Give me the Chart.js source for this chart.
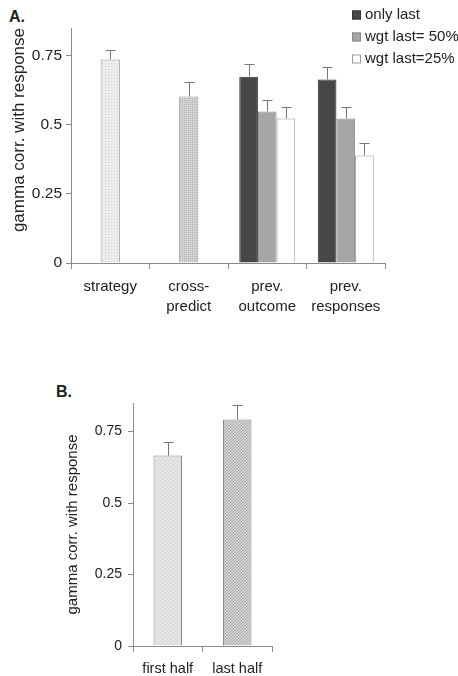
<!DOCTYPE html>
<html>
<head>
<meta charset="utf-8">
<script src="https://cdn.jsdelivr.net/npm/chart.js@4.4.1/dist/chart.umd.min.js"></script>
<style>
  body { margin: 0; background: #fff; width: 458px; height: 676px; position: relative; overflow: hidden; }
  .panel { position: absolute; left: 0; }
  .tag { position: absolute; font: bold 16px "Liberation Sans", Arial, sans-serif; color: #222; }
</style>
</head>
<body>
<div class="tag" style="left:9px; top:8px;">A.</div>
<div class="tag" style="left:56px; top:383px;">B.</div>
<div class="panel" style="top:0;"><canvas id="chartA" width="458" height="320"></canvas></div>
<div class="panel" style="top:370px;"><canvas id="chartB" width="458" height="306"></canvas></div>
<script>
// panel A
const categoriesA = ['strategy', ['cross-', 'predict'], ['prev.', 'outcome'], ['prev.', 'responses']];
const singleA = [0.736, 0.602, null, null];
const singleErrA = [0.036, 0.051, null, null];
const onlyLast = [null, null, 0.674, 0.664];
const onlyLastErr = [null, null, 0.047, 0.046];
const wgt50 = [null, null, 0.548, 0.523];
const wgt50Err = [null, null, 0.043, 0.040];
const wgt25 = [null, null, 0.523, 0.389];
const wgt25Err = [null, null, 0.040, 0.044];
const legendA = ['only last', 'wgt last= 50%', 'wgt last=25%'];

// panel B
const categoriesB = ['first half', 'last half'];
const halves = [0.666, 0.792];
const halvesErr = [0.049, 0.052];

const yTicks = [0, 0.25, 0.5, 0.75];
const yTitle = 'gamma corr. with response';

const FONT = '"Liberation Sans", Arial, sans-serif';
const AXIS = '#8a8a8a';

function dotPattern(base, dot, size) {
  const c = document.createElement('canvas');
  c.width = c.height = size;
  const g = c.getContext('2d');
  g.fillStyle = base;
  g.fillRect(0, 0, size, size);
  g.fillStyle = dot;
  g.fillRect(0, 0, 1, 1);
  return g.createPattern(c, 'repeat');
}

function hatchPattern(base, line, size) {
  const c = document.createElement('canvas');
  c.width = c.height = size;
  const g = c.getContext('2d');
  g.fillStyle = base;
  g.fillRect(0, 0, size, size);
  g.fillStyle = line;
  for (let i = 0; i < size; i++) g.fillRect(i, size - 1 - i, 1, 1);
  return g.createPattern(c, 'repeat');
}

// up-only error bars, taken from dataset.errors
const errorBars = {
  id: 'errorBars',
  afterDatasetsDraw(chart) {
    const ctx = chart.ctx;
    const y = chart.scales.y;
    ctx.save();
    ctx.strokeStyle = '#777';
    ctx.lineWidth = 1;
    chart.data.datasets.forEach((ds, di) => {
      if (!ds.errors) return;
      const meta = chart.getDatasetMeta(di);
      meta.data.forEach((bar, i) => {
        const v = ds.data[i];
        const e = ds.errors[i];
        if (v == null || e == null) return;
        const top = y.getPixelForValue(v + e);
        const x = Math.round(bar.x) + 0.5;
        ctx.beginPath();
        ctx.moveTo(x, bar.y);
        ctx.lineTo(x, Math.round(top) + 0.5);
        ctx.moveTo(x - 5, Math.round(top) + 0.5);
        ctx.lineTo(x + 5, Math.round(top) + 0.5);
        ctx.stroke();
      });
    });
    ctx.restore();
  }
};

// small legend in the upper right of panel A
const boxLegend = {
  id: 'boxLegend',
  afterDraw(chart, args, opts) {
    if (!opts.items) return;
    const ctx = chart.ctx;
    ctx.save();
    ctx.font = '15px ' + FONT;
    ctx.textBaseline = 'middle';
    opts.items.forEach((it, i) => {
      const cy = opts.y + i * opts.step;
      ctx.fillStyle = it.fill;
      ctx.fillRect(opts.x, cy - 4.5, 9, 9);
      ctx.strokeStyle = it.stroke;
      ctx.lineWidth = 1;
      ctx.strokeRect(opts.x + 0.5, cy - 4, 8, 8);
      ctx.fillStyle = '#222';
      ctx.fillText(it.text, opts.x + 13, cy);
    });
    ctx.restore();
  }
};

function yScale(width, titleSize, tickSize, align, titlePad, tickPad) {
  return {
    min: 0,
    max: 0.85,
    afterBuildTicks: s => { s.ticks = yTicks.map(v => ({ value: v })); },
    afterFit: s => { s.width = width; },
    border: { color: AXIS },
    grid: { drawOnChartArea: false, tickLength: 5, color: AXIS },
    ticks: {
      color: '#222', padding: tickPad,
      font: { family: FONT, size: tickSize },
      callback: v => String(v)
    },
    title: {
      display: true, text: yTitle, align: align, color: '#222',
      padding: { top: titlePad, bottom: 0 },
      font: { family: FONT, size: titleSize }
    }
  };
}

function xScale(height, size, pad) {
  return {
    afterFit: s => { s.height = height; },
    border: { color: AXIS },
    grid: { drawOnChartArea: false, tickLength: 6, color: AXIS },
    ticks: { color: '#222', padding: pad, font: { family: FONT, size: size, lineHeight: 1.33 } }
  };
}

const dark = '#474747';
const mid = '#a6a6a6';

new Chart(document.getElementById('chartA'), {
  type: 'bar',
  data: {
    labels: categoriesA,
    datasets: [
      {
        data: singleA, errors: singleErrA, grouped: false,
        categoryPercentage: 1, barPercentage: 0.245,
        backgroundColor: [dotPattern('#ececec', '#d4d4d4', 3), dotPattern('#d3d3d3', '#b3b3b3', 2), null, null],
        borderColor: '#9a9a9a', borderWidth: 1
      },
      {
        label: legendA[0], data: onlyLast, errors: onlyLastErr,
        categoryPercentage: 0.713, barPercentage: 1,
        backgroundColor: dark, borderColor: '#333', borderWidth: 1
      },
      {
        label: legendA[1], data: wgt50, errors: wgt50Err,
        categoryPercentage: 0.713, barPercentage: 1,
        backgroundColor: mid, borderColor: '#8a8a8a', borderWidth: 1
      },
      {
        label: legendA[2], data: wgt25, errors: wgt25Err,
        categoryPercentage: 0.713, barPercentage: 1,
        backgroundColor: '#ffffff', borderColor: '#9a9a9a', borderWidth: 1
      }
    ]
  },
  options: {
    responsive: false,
    animation: false,
    layout: { padding: { top: 28, right: 73, bottom: 0, left: 0 } },
    plugins: {
      legend: { display: false },
      tooltip: { enabled: false },
      boxLegend: {
        x: 352, y: 15, step: 22,
        items: [
          { text: legendA[0], fill: dark, stroke: '#333' },
          { text: legendA[1], fill: mid, stroke: '#8a8a8a' },
          { text: legendA[2], fill: '#fff', stroke: '#9a9a9a' }
        ]
      }
    },
    scales: {
      x: xScale(57, 15, 8),
      y: yScale(71, 17, 15.5, 'end', 9, 4)
    }
  },
  plugins: [errorBars, boxLegend]
});

new Chart(document.getElementById('chartB'), {
  type: 'bar',
  data: {
    labels: categoriesB,
    datasets: [{
      data: halves, errors: halvesErr,
      categoryPercentage: 1, barPercentage: 0.41,
      backgroundColor: [hatchPattern('#e6e6e6', '#d4d4d4', 4), hatchPattern('#d2d2d2', '#acacac', 3)],
      borderColor: '#8a8a8a', borderWidth: 1
    }]
  },
  options: {
    responsive: false,
    animation: false,
    layout: { padding: { top: 33, right: 186, bottom: 0, left: 64 } },
    plugins: { legend: { display: false }, tooltip: { enabled: false } },
    scales: {
      x: xScale(30, 14.5, 7),
      y: yScale(69, 15, 14, 'center', 0, 6)
    }
  },
  plugins: [errorBars]
});
</script>
</body>
</html>
